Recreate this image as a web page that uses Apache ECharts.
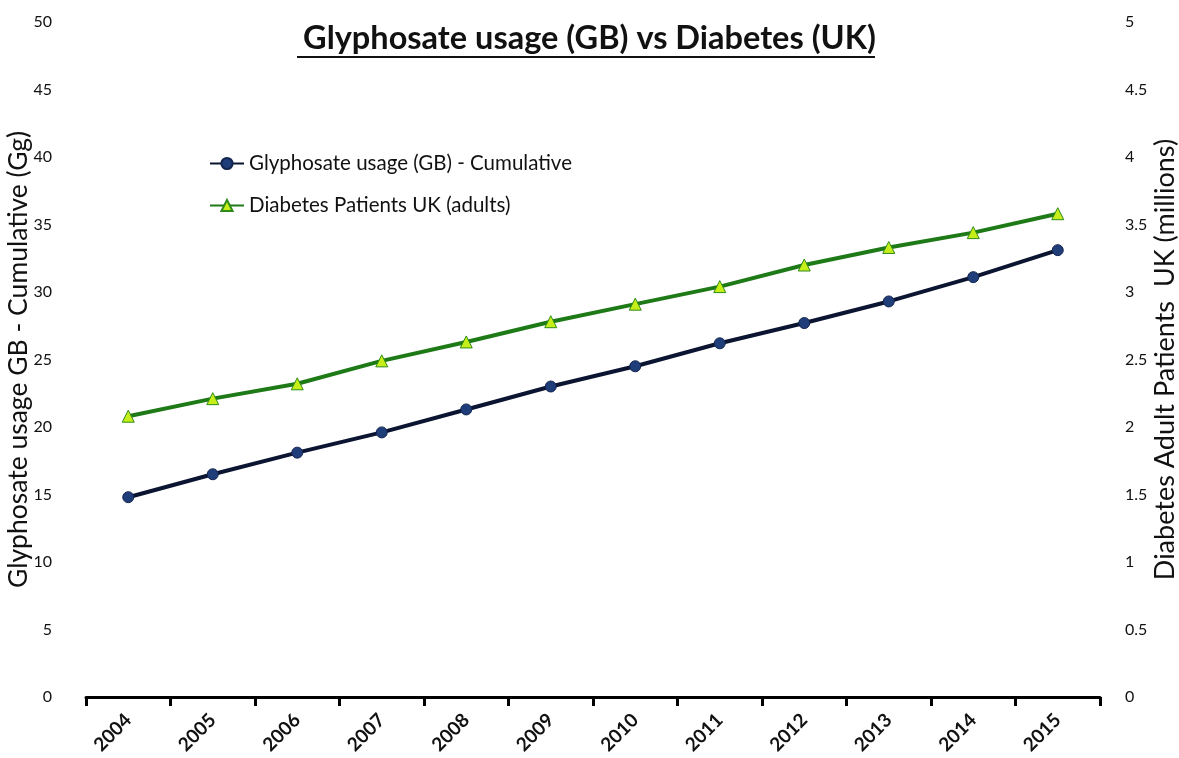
<!DOCTYPE html>
<html>
<head>
<meta charset="utf-8">
<script src="https://cdn.jsdelivr.net/npm/echarts@6/dist/echarts.min.js"></script>
<style>
  html, body { margin: 0; padding: 0; background: #fff; }
  #chart { width: 1179px; height: 758px; }
</style>
</head>
<body>
<div id="chart"></div>
<script>
// data
const years = ['2004', '2005', '2006', '2007', '2008', '2009', '2010', '2011', '2012', '2013', '2014', '2015'];
const glyphosate = [14.8, 16.5, 18.1, 19.6, 21.3, 23.0, 24.5, 26.2, 27.7, 29.3, 31.1, 33.1];
const diabetes = [2.08, 2.21, 2.32, 2.49, 2.63, 2.78, 2.91, 3.04, 3.20, 3.33, 3.44, 3.58];

const font = 'Lato';
const chart = echarts.init(document.getElementById('chart'));

const option = {
  animation: false,
  backgroundColor: '#fff',
  textStyle: { fontFamily: font, color: '#111' },
  title: {
    text: 'Glyphosate usage (GB) vs Diabetes (UK)',
    left: 'center',
    top: 17,
    textStyle: { fontFamily: font, fontWeight: 'bold', fontSize: 32.5, color: '#111' }
  },
  // underline of the title
  graphic: [{
    type: 'rect',
    shape: { x: 297, y: 56, width: 578, height: 2 },
    style: { fill: '#111' }
  }],
  legend: {
    orient: 'vertical',
    left: 204,
    top: 148,
    itemGap: 21,
    itemWidth: 34,
    itemHeight: 14,
    textStyle: { fontSize: 20.5, fontFamily: font, color: '#111' },
    data: ['Glyphosate usage (GB) - Cumulative', 'Diabetes Patients UK (adults)']
  },
  grid: { left: 86, right: 79, top: 22, bottom: 61, outerBoundsMode: 'none' },
  xAxis: {
    type: 'category',
    data: years,
    boundaryGap: true,
    axisLine: { lineStyle: { color: '#000', width: 3 } },
    axisTick: { show: true, length: 9, lineStyle: { color: '#000', width: 3 } },
    axisLabel: { rotate: 45, fontWeight: 'bold', fontSize: 19, color: '#111', margin: 20 }
  },
  yAxis: [{
    type: 'value',
    min: 0, max: 50, interval: 5,
    name: 'Glyphosate usage GB - Cumulative (Gg)',
    nameLocation: 'middle',
    nameMoveOverlap: false,
    nameGap: 54,
    nameTextStyle: { fontSize: 26.5, color: '#111', fontFamily: font },
    axisLine: { show: false },
    axisTick: { show: false },
    splitLine: { show: false },
    axisLabel: { fontSize: 16, color: '#111', margin: 34 }
  }, {
    type: 'value',
    min: 0, max: 5, interval: 0.5,
    name: 'Diabetes Adult Patients  UK (millions)',
    nameLocation: 'middle',
    nameMoveOverlap: false,
    nameGap: 52,
    nameRotate: 90,
    nameTextStyle: { fontSize: 27, color: '#111', fontFamily: font },
    axisLine: { show: false },
    axisTick: { show: false },
    splitLine: { show: false },
    axisLabel: { fontSize: 16, color: '#111', margin: 25 }
  }],
  series: [{
    name: 'Glyphosate usage (GB) - Cumulative',
    type: 'line',
    yAxisIndex: 0,
    data: glyphosate,
    symbol: 'circle',
    symbolSize: 11,
    lineStyle: { color: '#0b1430', width: 4 },
    itemStyle: { color: '#1f3d78', borderColor: '#13244f', borderWidth: 1 }
  }, {
    name: 'Diabetes Patients UK (adults)',
    type: 'line',
    yAxisIndex: 1,
    data: diabetes,
    symbol: 'triangle',
    symbolSize: 12,
    lineStyle: { color: '#1e7a16', width: 4 },
    itemStyle: { color: '#c6ef1a', borderColor: '#2e8a18', borderWidth: 1 }
  }]
};

chart.setOption(option);
</script>
</body>
</html>
